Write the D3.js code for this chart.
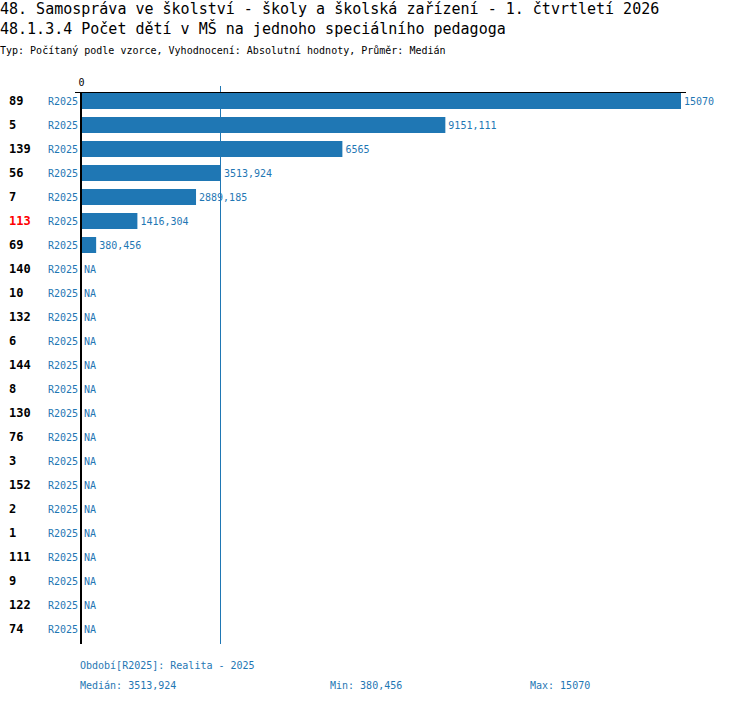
<!DOCTYPE html>
<html>
<head>
<meta charset="utf-8">
<style>
  body { margin: 0; background: white; }
  text { font-family: "DejaVu Sans Mono", monospace; }
</style>
</head>
<body>
<div id="chart"></div>
<script src="https://d3js.org/d3.v7.min.js"></script>
<script>
const titleLines = [
  '48. Samospráva ve školství - školy a školská zařízení - 1. čtvrtletí 2026',
  '48.1.3.4 Počet dětí v MŠ na jednoho speciálního pedagoga'
];
const subtitle = 'Typ: Počítaný podle vzorce, Vyhodnocení: Absolutní hodnoty, Průměr: Medián';

const ids = ['89', '5', '139', '56', '7', '113', '69', '140', '10', '132', '6', '144',
  '8', '130', '76', '3', '152', '2', '1', '111', '9', '122', '74'];
const values = [15070, 9151.111, 6565, 3513.924, 2889.185, 1416.304, 380.456,
  null, null, null, null, null, null, null, null, null, null, null, null, null, null, null, null];
const period = 'R2025';
const highlighted = '113';
const median = 3513.924;
const minVal = 380.456;
const maxVal = 15070;
const footerPeriod = 'Období[R2025]: Realita - 2025';

const width = 750, height = 704;
const blue = '#1f77b4';
const fmt = v => String(v).replace('.', ',');

const svg = d3.select('#chart').append('svg')
  .attr('width', width)
  .attr('height', height);

svg.selectAll('text.title')
  .data(titleLines)
  .join('text')
  .attr('class', 'title')
  .attr('x', 0)
  .attr('y', (d, i) => 14 + i * 20)
  .style('font-size', '15px')
  .attr('fill', '#000')
  .text(d => d);

svg.append('text')
  .attr('x', 0)
  .attr('y', 54)
  .style('font-size', '10px')
  .text(subtitle);

const x = d3.scaleLinear().domain([0, maxVal]).range([81, 681]);
const y = d3.scaleBand().domain(ids).range([89, 641]).paddingInner(1 / 3).paddingOuter(1 / 6);

const rows = ids.map((id, i) => ({ id, value: values[i] }));

// median line
svg.append('line')
  .attr('x1', Math.round(x(median)) - 0.5).attr('x2', Math.round(x(median)) - 0.5)
  .attr('y1', 86).attr('y2', 644)
  .attr('stroke', blue).attr('stroke-width', 1);

svg.selectAll('rect.bar')
  .data(rows.filter(d => d.value != null))
  .join('rect')
  .attr('class', 'bar')
  .attr('x', x(0))
  .attr('y', d => y(d.id))
  .attr('width', d => x(d.value) - x(0))
  .attr('height', y.bandwidth())
  .attr('fill', blue);

// top axis
const axis = svg.append('g')
  .attr('transform', 'translate(0,92)')
  .call(d3.axisTop(x).tickValues([0]).tickSize(0).tickPadding(6));
axis.select('.domain').remove();
axis.selectAll('text')
  .style('font-family', '"DejaVu Sans Mono", monospace')
  .style('font-size', '10px')
  .attr('fill', '#000');

svg.append('line')
  .attr('x1', 75).attr('x2', 686)
  .attr('y1', 92.5).attr('y2', 92.5)
  .attr('stroke', '#000').attr('stroke-width', 1);

svg.append('line')
  .attr('x1', 81).attr('x2', 81)
  .attr('y1', 92).attr('y2', 644)
  .attr('stroke', '#000').attr('stroke-width', 2);

const cy = d => y(d.id) + y.bandwidth() / 2;

svg.selectAll('text.id')
  .data(rows)
  .join('text')
  .attr('class', 'id')
  .attr('x', 9)
  .attr('y', cy)
  .attr('dy', '0.35em')
  .style('font-size', '12px')
  .style('font-weight', 'bold')
  .attr('fill', d => d.id === highlighted ? '#ff0000' : '#000')
  .text(d => d.id);

svg.selectAll('text.period')
  .data(rows)
  .join('text')
  .attr('class', 'period')
  .attr('x', 78)
  .attr('y', cy)
  .attr('dy', '0.35em')
  .attr('text-anchor', 'end')
  .style('font-size', '10px')
  .attr('fill', blue)
  .text(period);

svg.selectAll('text.val')
  .data(rows)
  .join('text')
  .attr('class', 'val')
  .attr('x', d => d.value == null ? 84 : x(d.value) + 3)
  .attr('y', cy)
  .attr('dy', '0.35em')
  .style('font-size', '10px')
  .attr('fill', blue)
  .text(d => d.value == null ? 'NA' : fmt(d.value));

const footer = [
  { t: footerPeriod, x: 80, y: 669 },
  { t: 'Medián: ' + fmt(median), x: 80, y: 689 },
  { t: 'Min: ' + fmt(minVal), x: 330, y: 689 },
  { t: 'Max: ' + fmt(maxVal), x: 530, y: 689 }
];
svg.selectAll('text.foot')
  .data(footer)
  .join('text')
  .attr('class', 'foot')
  .attr('x', d => d.x)
  .attr('y', d => d.y)
  .style('font-size', '10px')
  .attr('fill', blue)
  .text(d => d.t);
</script>
</body>
</html>
